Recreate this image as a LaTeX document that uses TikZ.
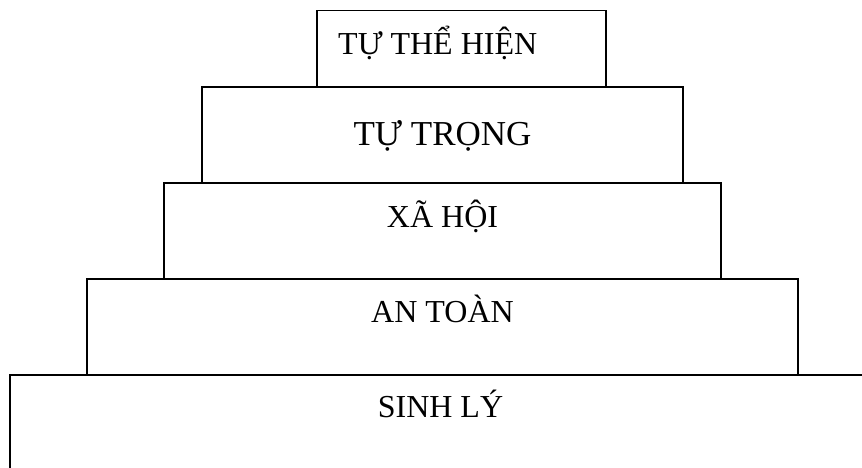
\documentclass[tikz,border=0pt]{standalone}
\usepackage{fontspec}
\setmainfont{Liberation Serif}
\usepackage{tikz}

\begin{document}
\begin{tikzpicture}[x=1pt, y=1pt]
    % Define styles
    \tikzstyle{tang} = [rectangle, draw=black, line width=1.5pt, inner sep=0pt, minimum height=96pt]
    \tikzstyle{nhan} = [inner sep=0pt, anchor=base, font=\fontsize{32}{38}\selectfont]

    \useasboundingbox (0,0) rectangle (862,468);

    % Nodes
    \node [tang, minimum width=289pt, minimum height=76.5pt] (thehien) at (461.5,419.25) {};
    \node [tang, minimum width=481pt] (tutrong) at (442.5,333) {};
    \node [tang, minimum width=557pt] (xahoi) at (442.5,237) {};
    \node [tang, minimum width=711pt] (antoan) at (442.5,141) {};
    \node [tang, minimum width=900pt, minimum height=120pt] (sinhly) at (460,33) {};

    % Labels
    \node [nhan, anchor=base west] (lthehien) at ([xshift=-123.5pt, yshift=-44.5pt]thehien.north) {TỰ THỂ HIỆN};
    \node [nhan, font=\fontsize{35}{42}\selectfont] (ltutrong) at ([yshift=-59pt]tutrong.north) {TỰ TRỌNG};
    \node [nhan] (lxahoi) at ([yshift=-45pt]xahoi.north) {XÃ HỘI};
    \node [nhan] (lantoan) at ([yshift=-44pt]antoan.north) {AN TOÀN};
    \node [nhan] (lsinhly) at ([xshift=-2pt, yshift=-43pt]sinhly.north -| antoan.north) {SINH LÝ};
\end{tikzpicture}
\end{document}
